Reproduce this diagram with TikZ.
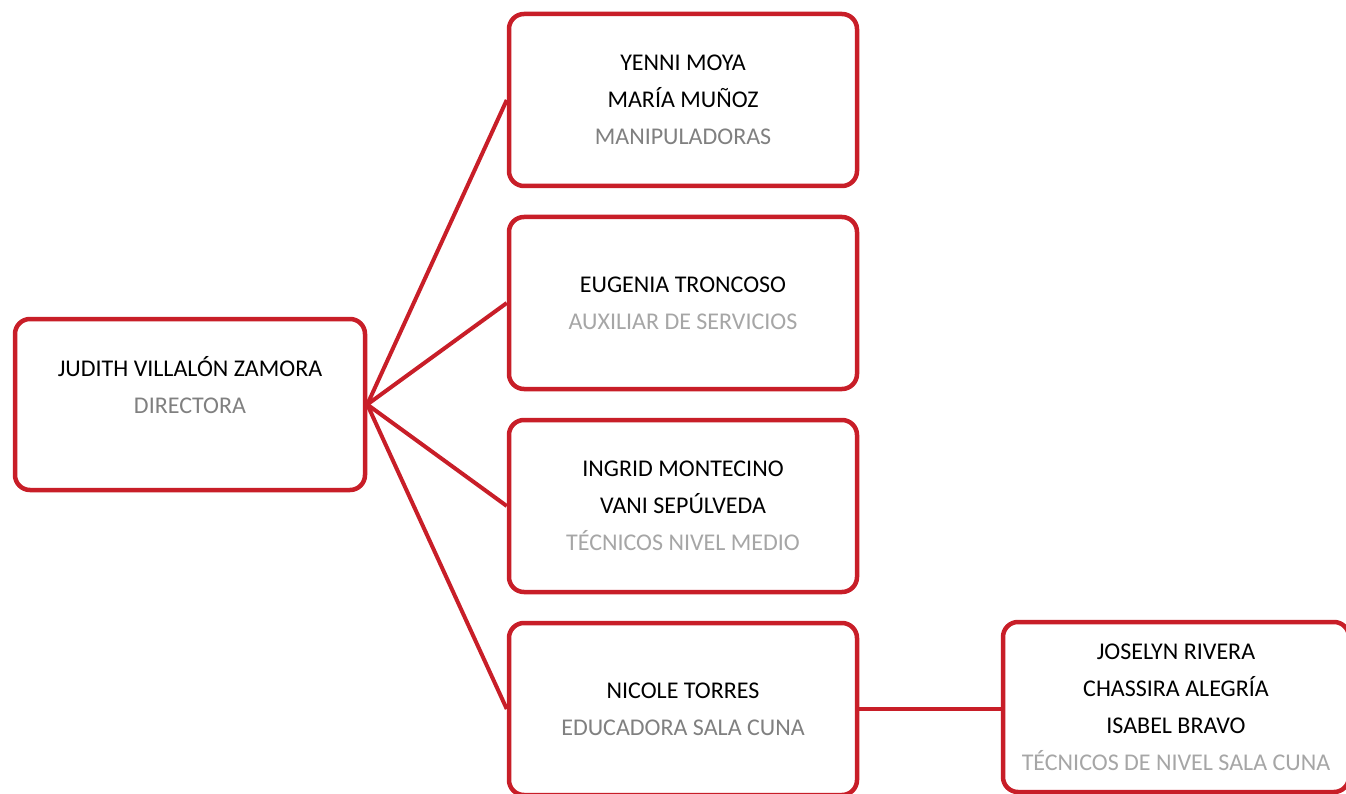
\documentclass[tikz,border=0pt]{standalone}
\usepackage{fontspec}
\setmainfont{Carlito}
\definecolor{boxred}{RGB}{200,30,40}
\definecolor{rolegray}{RGB}{128,128,128}
\definecolor{rolelight}{RGB}{166,166,166}
\begin{document}
\begin{tikzpicture}[x=1pt,y=-1pt,
  box/.style={draw=boxred, line width=4.5pt, rounded corners=15pt, fill=white,
    minimum width=348pt, minimum height=172pt, align=center, inner sep=0pt,
    font=\fontsize{24pt}{37pt}\selectfont},
  link/.style={draw=boxred, line width=4pt}]
\useasboundingbox (0,0) rectangle (1346,794);
\clip (0,0) rectangle (1346,794);
\node[box, minimum width=350pt, minimum height=171pt] (dir) at (190,404.5)
  {JUDITH VILLALÓN ZAMORA\\ \textcolor{rolegray}{DIRECTORA}\\ \rule[-2pt]{0pt}{2pt}};
\node[box] (b1) at (683,100)
  {YENNI MOYA\\ MARÍA MUÑOZ\\ \textcolor{rolegray}{MANIPULADORAS}};
\node[box] (b2) at (683,303)
  {EUGENIA TRONCOSO\\ \textcolor{rolelight}{AUXILIAR DE SERVICIOS}};
\node[box] (b3) at (683,506)
  {INGRID MONTECINO\\ VANI SEPÚLVEDA\\ \textcolor{rolelight}{TÉCNICOS NIVEL MEDIO}};
\node[box] (b4) at (683,709)
  {NICOLE TORRES\\ \textcolor{rolegray}{EDUCADORA SALA CUNA}};
\node[box, minimum width=346pt, minimum height=170pt] (b5) at (1176,707)
  {JOSELYN RIVERA\\ CHASSIRA ALEGRÍA\\ ISABEL BRAVO\\ \textcolor{rolelight}{TÉCNICOS DE NIVEL SALA CUNA}};
\draw[link] (dir.east) -- (b1.west);
\draw[link] (dir.east) -- (b2.west);
\draw[link] (dir.east) -- (b3.west);
\draw[link] (dir.east) -- (b4.west);
\draw[link] (b4.east) -- (b5.west |- b4.east);
\end{tikzpicture}
\end{document}
